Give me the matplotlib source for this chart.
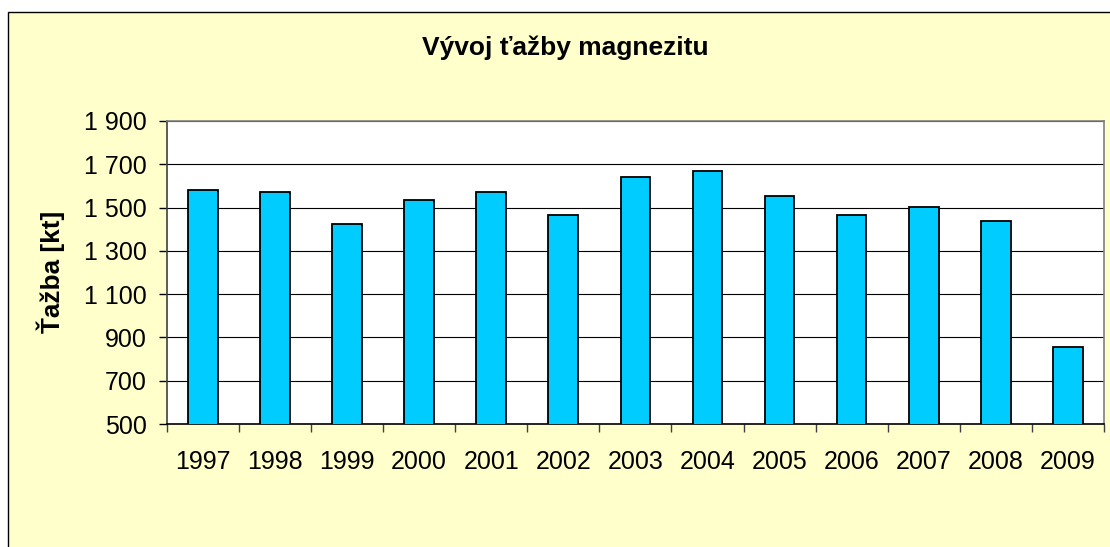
import matplotlib
matplotlib.use("Agg")
import matplotlib.pyplot as plt
from matplotlib.patches import Rectangle
from matplotlib.ticker import FuncFormatter, FixedLocator

# ťažba magnezitu [kt] podľa rokov
years = ["1997", "1998", "1999", "2000", "2001", "2002", "2003",
         "2004", "2005", "2006", "2007", "2008", "2009"]
tazba = [1579, 1573, 1422, 1535, 1573, 1464, 1641,
         1669, 1553, 1467, 1502, 1437, 858]
y_ticks = [500, 700, 900, 1100, 1300, 1500, 1700, 1900]

plt.rcParams['font.family'] = ['Liberation Sans', 'DejaVu Sans']

W, H = 1110, 547
fig = plt.figure(figsize=(W / 100, H / 100), dpi=100, facecolor="white")

# frame of the chart area (runs off the right and bottom edge)
fig.patches.append(Rectangle((8 / W, -0.05), 1.2, 1 - 11.7 / H + 0.05,
                             transform=fig.transFigure, facecolor="#FFFFCC",
                             edgecolor="black", linewidth=1.0, zorder=-10))

ax = fig.add_axes([166.7 / W, 1 - 424 / H, (1104 - 166.7) / W, (424 - 121) / H])
ax.set_zorder(5)
ax.set_facecolor("white")

x = list(range(len(years)))
ax.bar(x, tazba, width=0.41, color="#00CCFF", edgecolor="black",
       linewidth=1.3, zorder=3)

ax.set_xlim(-0.5, len(years) - 0.5)
ax.set_ylim(500, 1900)
ax.set_yticks(y_ticks)
ax.yaxis.set_major_formatter(FuncFormatter(lambda v, p: f"{int(v):,}".replace(",", " ")))
ax.yaxis.grid(True, color="black", linewidth=0.8, zorder=1)
ax.set_axisbelow(True)

# tick marks between categories, labels centred under bars
ax.xaxis.set_major_locator(FixedLocator([i - 0.5 for i in range(len(years) + 1)]))
ax.xaxis.set_minor_locator(FixedLocator(x))
ax.set_xticklabels([], minor=False)
ax.set_xticks(x, years, minor=True)
ax.tick_params(axis="x", which="major", direction="out", length=5.8, width=1, color="#404040")
ax.tick_params(axis="x", which="minor", length=0, pad=19, labelsize=18)
ax.tick_params(axis="y", direction="out", length=5.5, width=1, pad=9, labelsize=18)

for side in ["top", "right"]:
    ax.spines[side].set_color("#808080")
    ax.spines[side].set_linewidth(1.2)
ax.spines["left"].set_color("#404040")
ax.spines["bottom"].set_color("black")
ax.spines["left"].set_linewidth(1.2)
ax.spines["bottom"].set_linewidth(1.2)

fig.text(565 / W, 1 - 48 / H, "Vývoj ťažby magnezitu", ha="center", va="center",
         fontsize=19, fontweight="bold")
fig.text(51 / W, 1 - 272 / H, "Ťažba [kt]", ha="center", va="center",
         rotation=90, fontsize=18.8, fontweight="bold")

fig.savefig("out.png", dpi=100, facecolor=fig.get_facecolor())
